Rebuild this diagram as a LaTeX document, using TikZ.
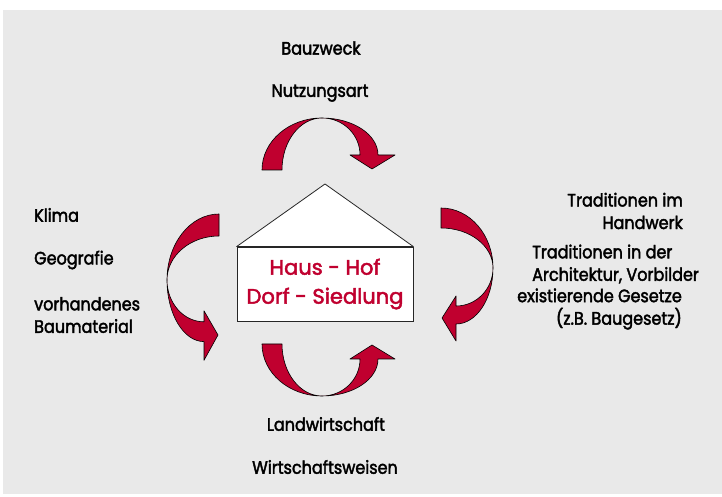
\documentclass[tikz,border=0pt]{standalone}
\usepackage{fontspec}
\setmainfont{Poppins}[FakeStretch=0.89,FakeBold=2.2]
\newfontfamily\housefont{Poppins}[FakeStretch=1.0,FakeBold=2.2]
\usepackage{xcolor}
\definecolor{arrowred}{RGB}{192,0,47}
\definecolor{panel}{RGB}{233,233,233}
\tikzset{
  ribbon/.style={fill=arrowred,draw=black,line width=0.6pt,line join=round},
  twistarrow/.pic={
    \path[ribbon] (-60,-52) arc[start angle=180,end angle=90,x radius=60,y radius=52]
      arc[start angle=90,end angle=180,x radius=40,y radius=52] -- cycle;
    \path[ribbon] (0,0) arc[start angle=90,end angle=0,x radius=56,y radius=37]
      -- (73,-37) -- (50,-51) -- (28,-37) -- (38,-37)
      arc[start angle=0,end angle=90,x radius=38,y radius=37] -- cycle;
  }
}
\begin{document}
\begin{tikzpicture}[x=1pt,y=1pt]
\tikzstyle{every node}+=[inner sep=0pt]
\tikzstyle{cue}=[font=\fontsize{18}{22.5}\selectfont]
\tikzstyle{housebox}=[draw=black!85,fill=white,line width=0.8pt,minimum width=176pt,minimum height=74pt,
  align=center,text=arrowred,font=\housefont\fontsize{21}{29}\selectfont]
\useasboundingbox (0,0) rectangle (722,497);
\fill[panel] (3,3) rectangle (722,487);
\node[housebox] (house) at (325,213) {Haus - Hof\\Dorf - Siedlung};
\coordinate (ridge) at (325,313);
\draw[black!85,fill=white,line width=0.8pt,line join=round] (house.north west) -- (ridge) -- (house.north east) -- cycle;
\pic at (322,379) {twistarrow};
\pic[yscale=-1] at (322,101) {twistarrow};
\pic[rotate=-90,yscale=-1,xscale=1.1] at (167,217) {twistarrow};
\pic[rotate=-90] at (493,229) {twistarrow};
\node[cue] (bauzweck) at (321,449) {Bauzweck};
\node[cue] (nutzung) at (320,404) {Nutzungsart};
\node[cue,anchor=west] (klima) at (34,282) {Klima};
\node[cue,anchor=west] (geografie) at (34,237) {Geografie};
\node[cue,anchor=west,align=left] (material) at (34,182) {vorhandenes\\Baumaterial};
\node[cue,anchor=east,align=right] (handwerk) at (683,286) {Traditionen im\\Handwerk};
\node[cue,anchor=west,align=left] (vorbilder) at (532,233) {Traditionen in der\\Architektur, Vorbilder};
\node[cue,anchor=east,align=right] (gesetze) at (682,188) {existierende Gesetze\\(z.B. Baugesetz)};
\node[cue] (landwirtschaft) at (326,73) {Landwirtschaft};
\node[cue] (wirtschaft) at (325,30) {Wirtschaftsweisen};
\end{tikzpicture}
\end{document}
